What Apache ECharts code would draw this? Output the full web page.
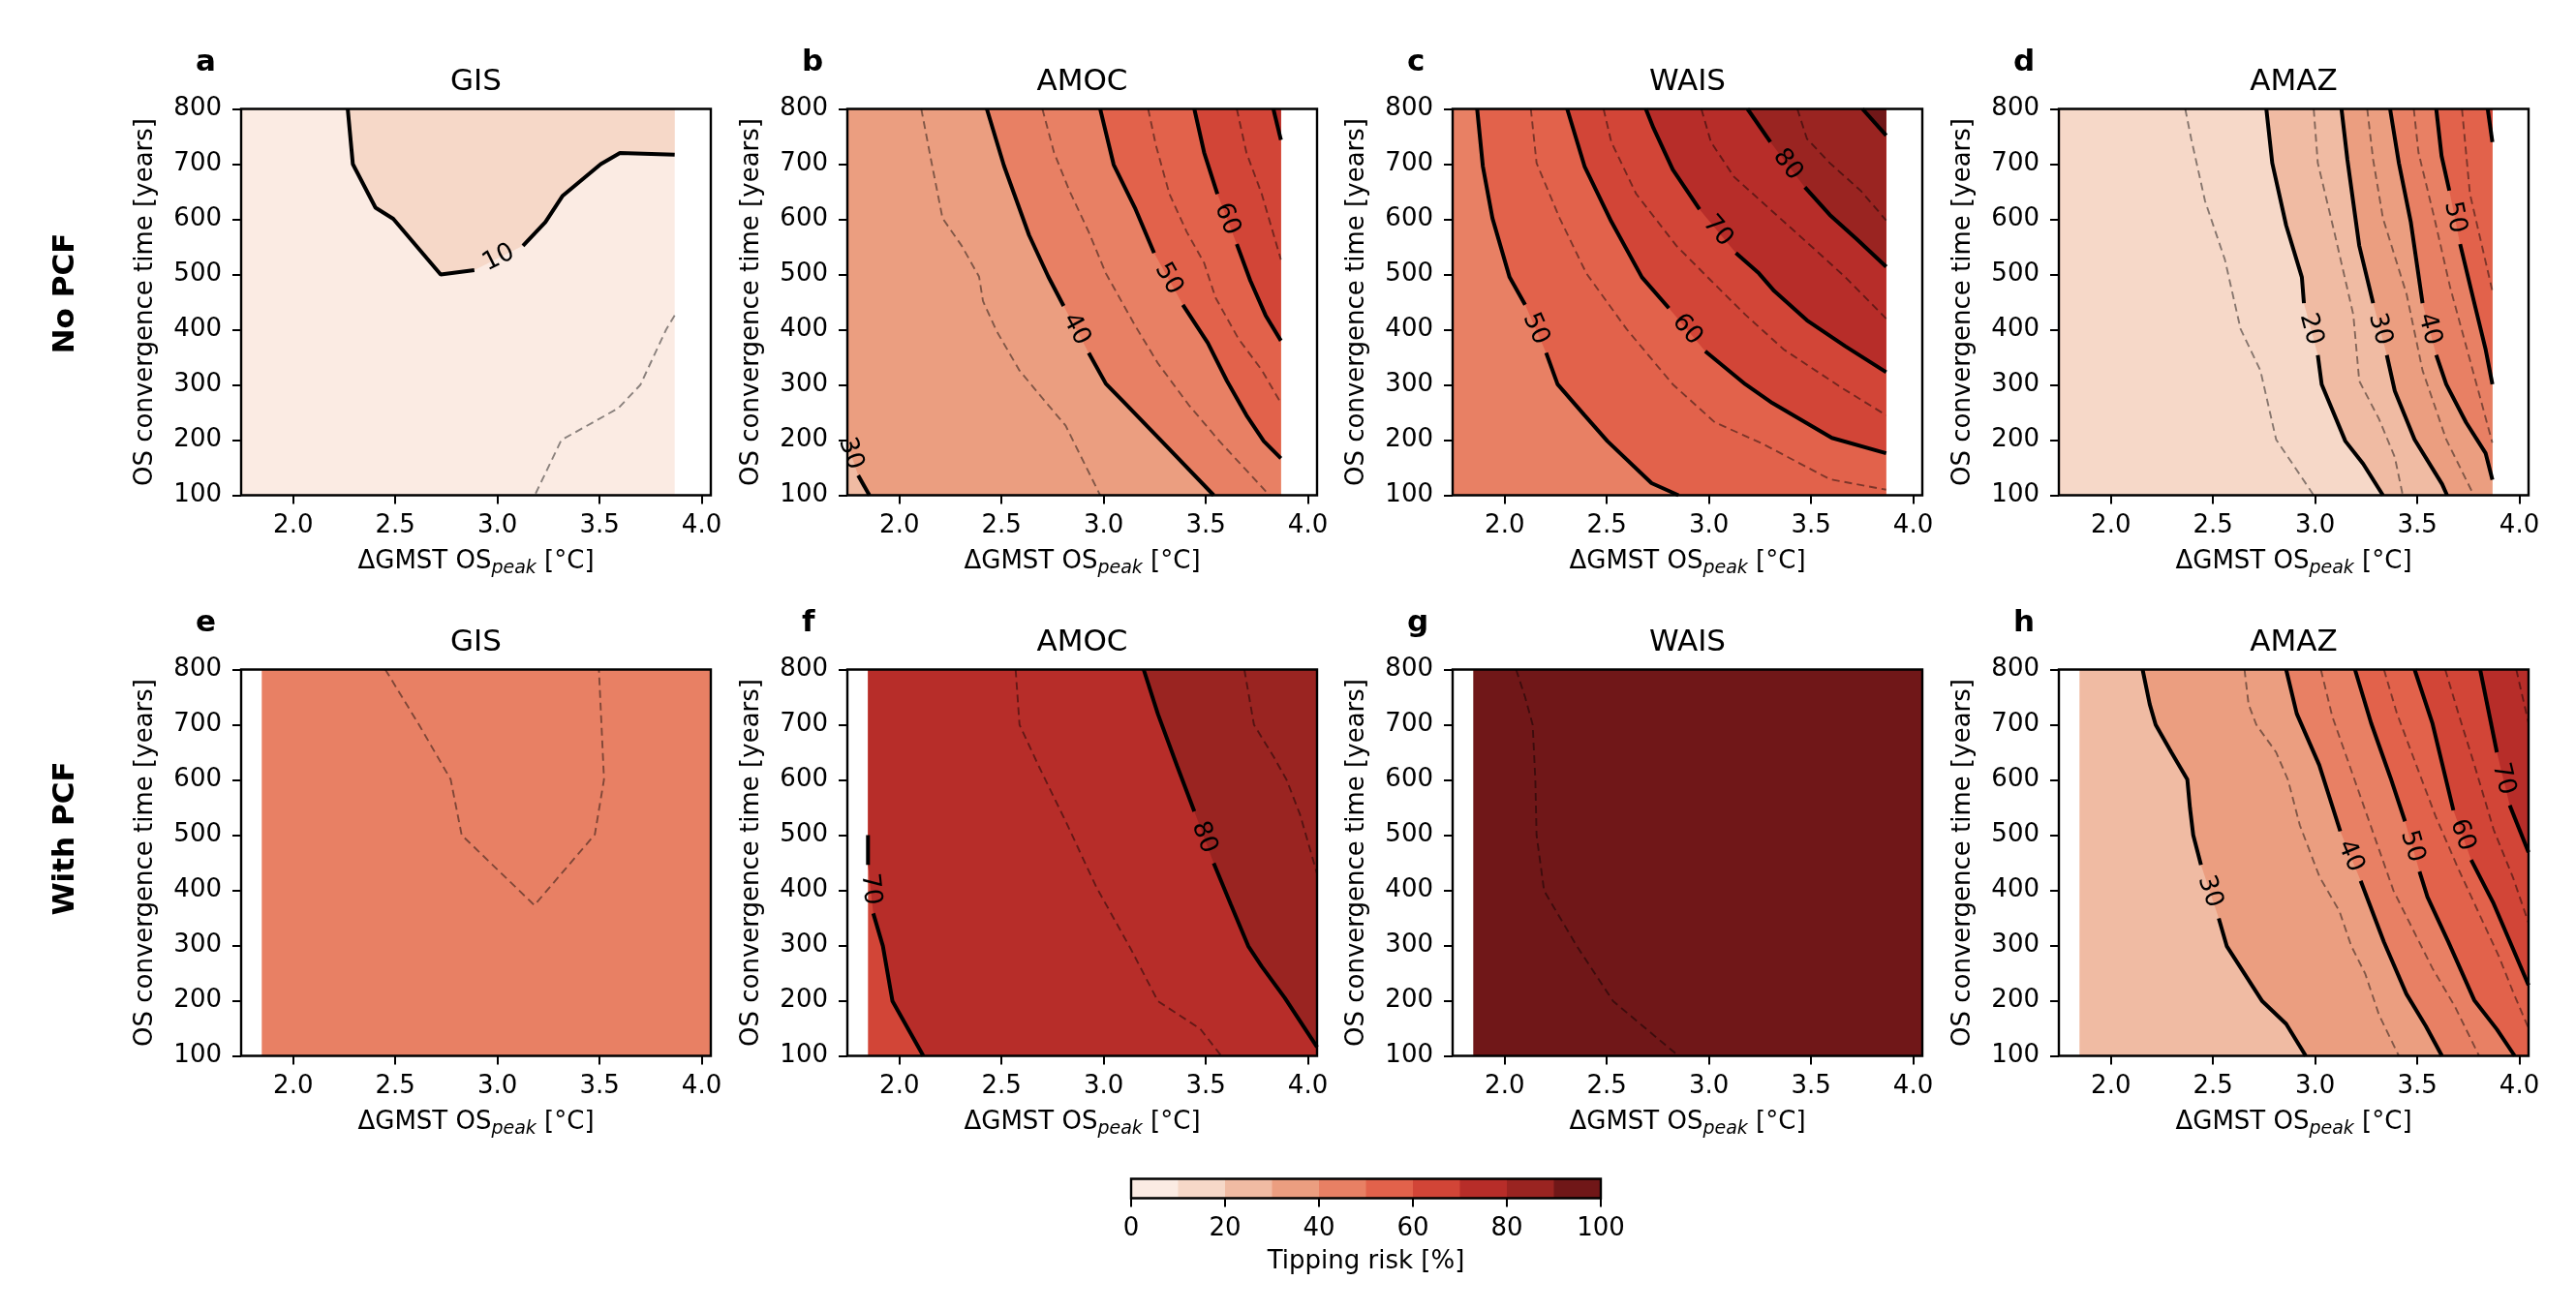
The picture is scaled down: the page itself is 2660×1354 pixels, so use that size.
<!DOCTYPE html>
<html>
<head>
<meta charset="utf-8">
<title>Tipping risk vs overshoot</title>
<script src="https://cdn.jsdelivr.net/npm/echarts@6/dist/echarts.min.js"></script>
<style>
  html, body { margin: 0; padding: 0; background: #fff; }
  #chart { width: 2660px; height: 1354px; }
</style>
</head>
<body>
<div id="chart"></div>
<script>
const panelTitles = ['GIS', 'AMOC', 'WAIS', 'AMAZ'];
const panelLetters = ['a', 'b', 'c', 'd', 'e', 'f', 'g', 'h'];
const rowNames = ['No PCF', 'With PCF'];
const xTicks = [2.0, 2.5, 3.0, 3.5, 4.0];
const riskLevels = [0, 10, 20, 30, 40, 50, 60, 70, 80, 90, 100];
const riskColors = ['#fbebe3', '#f6d8c8', '#f0bba3', '#eb9e80', '#e88064',
                    '#e2624b', '#d24537', '#b72d29', '#9a2421', '#701718'];
// x extent of the data in each row, y extent shared
const rowXExtent = [[1.745, 3.868], [1.846, 4.045]];
const yExtent = [100, 800];

// contour lines per panel: [level, points]; null = gap for the inline label
const isoA = [
  [5, [[3.868, 426], [3.826, 400], [3.70, 300], [3.593, 258], [3.313, 200], [3.183, 100]]],
  [10, [[2.267, 800], [2.292, 700], [2.403, 621], [2.49, 601], [2.722, 500], [2.887, 508], null,
        [3.125, 552], [3.235, 595], [3.318, 642], [3.506, 700], [3.60, 720], [3.868, 717]]]
];
const isoB = [
  [30, [[1.725, 215], null, [1.798, 136], [1.853, 100]]],
  [35, [[2.107, 800], [2.154, 709], [2.211, 602], [2.305, 552], [2.39, 496], [2.409, 452], [2.475, 398],
        [2.588, 326], [2.70, 276], [2.814, 226], [2.983, 100]]],
  [40, [[2.428, 800], [2.512, 697], [2.635, 571], [2.729, 496], [2.804, 443], null,
        [2.927, 358], [3.011, 302], [3.096, 270], [3.284, 198], [3.539, 100]]],
  [45, [[2.70, 800], [2.757, 721], [2.832, 652], [2.927, 577], [3.011, 502], [3.153, 408], [3.266, 339],
        [3.416, 264], [3.567, 198], [3.812, 100]]],
  [50, [[2.983, 800], [3.049, 699], [3.153, 621], [3.247, 539], null,
        [3.388, 445], [3.510, 376], [3.604, 307], [3.699, 245], [3.784, 198], [3.868, 167]]],
  [55, [[3.218, 800], [3.256, 734], [3.322, 646], [3.407, 577], [3.492, 521], [3.548, 458], [3.661, 383],
        [3.774, 327], [3.868, 267]]],
  [60, [[3.444, 800], [3.492, 721], [3.557, 646], null, [3.652, 555], [3.718, 489], [3.793, 426], [3.868, 380]]],
  [65, [[3.652, 800], [3.699, 721], [3.774, 646], [3.868, 527]]],
  [70, [[3.831, 800], [3.868, 744]]]
];
const isoC = [
  [50, [[1.865, 800], [1.893, 696], [1.94, 602], [2.024, 495], [2.10, 445], null,
        [2.203, 358], [2.259, 301], [2.391, 245], [2.503, 198], [2.719, 122], [2.851, 100]]],
  [55, [[2.128, 800], [2.156, 702], [2.269, 602], [2.40, 502], [2.597, 401], [2.823, 301], [3.029, 232],
        [3.254, 195], [3.592, 129], [3.868, 110]]],
  [60, [[2.306, 800], [2.391, 696], [2.522, 596], [2.672, 495], [2.804, 439], null,
        [2.982, 361], [3.179, 301], [3.311, 267], [3.602, 204], [3.868, 176]]],
  [65, [[2.484, 800], [2.522, 740], [2.644, 646], [2.841, 552], [3.010, 489], [3.179, 427], [3.367, 364],
        [3.649, 295], [3.868, 245]]],
  [70, [[2.691, 800], [2.729, 765], [2.823, 690], [2.954, 618], null,
        [3.132, 539], [3.245, 502], [3.320, 470], [3.480, 417], [3.668, 370], [3.868, 323]]],
  [75, [[2.963, 800], [3.010, 740], [3.123, 677], [3.348, 602], [3.517, 546], [3.668, 495], [3.868, 420]]],
  [80, [[3.189, 800], [3.301, 740], null, [3.470, 658], [3.592, 608], [3.724, 564], [3.868, 514]]],
  [85, [[3.433, 800], [3.480, 746], [3.592, 702], [3.743, 652], [3.868, 598]]],
  [90, [[3.752, 800], [3.868, 752]]]
];
const isoD = [
  [15, [[2.364, 800], [2.393, 746], [2.461, 633], [2.558, 527], [2.635, 401], [2.732, 326], [2.809, 201], [2.993, 100]]],
  [20, [[2.761, 800], [2.790, 702], [2.858, 589], [2.935, 495], [2.945, 448], null,
        [3.013, 354], [3.032, 301], [3.148, 198], [3.235, 157], [3.332, 100]]],
  [25, [[2.993, 800], [3.013, 702], [3.09, 583], [3.187, 427], [3.216, 307], [3.313, 238], [3.390, 169], [3.429, 100]]],
  [30, [[3.129, 800], [3.158, 708], [3.216, 552], [3.284, 448], null,
        [3.351, 354], [3.390, 289], [3.487, 201], [3.622, 120], [3.646, 100]]],
  [35, [[3.255, 800], [3.284, 708], [3.332, 602], [3.448, 464], [3.526, 326], [3.642, 201], [3.777, 100]]],
  [40, [[3.367, 800], [3.410, 702], [3.468, 596], [3.526, 448], null,
        [3.593, 354], [3.642, 301], [3.739, 232], [3.835, 176], [3.868, 128]]],
  [45, [[3.483, 800], [3.506, 721], [3.584, 602], [3.661, 477], [3.758, 345], [3.868, 195]]],
  [50, [[3.593, 800], [3.619, 715], [3.657, 652], null, [3.71, 555], [3.777, 452], [3.835, 364], [3.868, 301]]],
  [55, [[3.719, 800], [3.758, 646], [3.868, 470]]],
  [60, [[3.845, 800], [3.868, 740]]]
];
const isoE = [
  [45, [[2.451, 800], [2.616, 700], [2.771, 601], [2.825, 500], [3.181, 373], [3.477, 501], [3.522, 601], [3.497, 800]]]
];
const isoF = [
  [70, [[1.846, 500], [1.846, 446], null, [1.872, 358], [1.919, 299], [1.966, 199], [2.117, 100]]],
  [75, [[2.569, 800], [2.588, 700], [2.682, 625], [2.814, 525], [2.964, 406], [3.134, 293], [3.266, 199],
        [3.473, 149], [3.576, 100]]],
  [80, [[3.196, 800], [3.266, 719], [3.360, 625], [3.444, 543], null,
        [3.539, 449], [3.623, 374], [3.708, 299], [3.774, 262], [3.887, 205], [4.045, 116]]],
  [85, [[3.689, 800], [3.736, 700], [3.831, 643], [3.896, 600], [3.962, 537], [4.045, 430]]]
];
const isoG = [
  [95, [[2.056, 800], [2.10, 750], [2.137, 700], [2.150, 600], [2.156, 500], [2.193, 399], [2.353, 299],
        [2.531, 199], [2.851, 100]]]
];
const isoH = [
  [30, [[2.155, 800], [2.19, 737], [2.219, 700], [2.296, 650], [2.374, 601], [2.387, 549], [2.403, 500],
        [2.441, 446], null, [2.528, 349], [2.567, 299], [2.654, 249], [2.741, 199], [2.858, 158], [2.954, 100]]],
  [35, [[2.654, 800], [2.674, 737], [2.712, 700], [2.809, 650], [2.867, 600], [2.925, 518], [3.022, 424],
        [3.119, 362], [3.177, 299], [3.245, 249], [3.313, 174], [3.41, 100]]],
  [40, [[2.858, 800], [2.91, 720], [3.02, 627], [3.123, 507], null,
        [3.223, 417], [3.337, 306], [3.447, 212], [3.542, 154], [3.621, 100]]],
  [45, [[3.028, 800], [3.084, 715], [3.179, 615], [3.289, 499], [3.384, 399], [3.495, 317], [3.574, 259],
        [3.685, 189], [3.803, 100]]],
  [50, [[3.195, 800], [3.274, 703], [3.369, 604], [3.44, 525], null,
        [3.511, 434], [3.550, 388], [3.653, 306], [3.779, 201], [3.890, 148], [3.977, 100]]],
  [55, [[3.337, 800], [3.40, 721], [3.495, 627], [3.59, 534], [3.70, 440], [3.80, 360], [3.90, 280],
        [3.97, 215], [4.045, 150]]],
  [60, [[3.487, 800], [3.574, 703], [3.677, 545], null, [3.764, 455], [3.874, 376], [3.969, 294], [4.045, 228]]],
  [65, [[3.637, 800], [3.701, 721], [3.78, 627], [3.874, 510], [3.969, 423], [4.045, 341]]],
  [70, [[3.808, 800], [3.890, 650], null, [3.953, 554], [4.045, 469]]],
  [75, [[3.985, 800], [4.045, 703]]]
];
const panels = [isoA, isoB, isoC, isoD, isoE, isoF, isoG, isoH];

// layout
const gridLeft = [249, 875, 1500, 2126];
const gridTop = [112.5, 691.5];
const gridW = 485, gridH = 399;
const xMin = 1.745, xMax = 4.045;
const fontFamily = 'DejaVu Sans';
const cbar = { left: 1168, top: 1217.5, width: 485, height: 20 };

// position of a boundary point along the domain outline (0..4, clockwise from top-left)
function edgePos(pt, d) {
  const fx = Math.min(Math.max((pt[0] - d.x0) / (d.x1 - d.x0), 0), 1);
  const fy = Math.min(Math.max((pt[1] - d.y0) / (d.y1 - d.y0), 0), 1);
  const dist = [1 - fy, 1 - fx, fy, fx];
  const e = dist.indexOf(Math.min(...dist));
  return [fx, 2 - fy, 3 - fx, 3 + fy][e];
}

// polygon of the area above a contour level (high side lies left of the line direction)
function highSide(pts, d) {
  const line = pts.filter(Boolean);
  const corners = [[d.x0, d.y1], [d.x1, d.y1], [d.x1, d.y0], [d.x0, d.y0]];
  const s0 = edgePos(line[0], d);
  const s1 = edgePos(line[line.length - 1], d);
  const target = s0 > s1 ? s0 - 4 : s0;
  const out = line.slice();
  for (let c = Math.floor(s1); c > target; c--) out.push(corners[((c % 4) + 4) % 4]);
  return out;
}

function buildRegions(iso, d) {
  const minLevel = Math.min(...iso.map(l => l[0]));
  const regions = [{
    band: Math.ceil(minLevel / 10) - 1,
    pts: [[d.x0, d.y1], [d.x1, d.y1], [d.x1, d.y0], [d.x0, d.y0]]
  }];
  iso.filter(l => l[0] % 10 === 0)
    .sort((a, b) => a[0] - b[0])
    .forEach(l => regions.push({ band: l[0] / 10, pts: highSide(l[1], d) }));
  return regions;
}

function segments(pts) {
  const segs = [[]];
  pts.forEach(p => p ? segs[segs.length - 1].push(p) : segs.push([]));
  return segs.filter(s => s.length > 1);
}

function labelItem(params, api) {
  const a = api.coord([api.value(0), api.value(1)]);
  const b = api.coord([api.value(2), api.value(3)]);
  let ang = Math.atan2(a[1] - b[1], b[0] - a[0]);
  if (ang > Math.PI / 2) ang -= Math.PI;
  if (ang < -Math.PI / 2) ang += Math.PI;
  return {
    type: 'text',
    x: (a[0] + b[0]) / 2,
    y: (a[1] + b[1]) / 2,
    rotation: ang,
    style: {
      text: String(api.value(4)), fontSize: 26, fontFamily: fontFamily,
      fill: '#000', align: 'center', verticalAlign: 'middle'
    }
  };
}

const textStyle = { color: '#000', fontFamily: fontFamily, fontSize: 26 };
const grids = [], xAxes = [], yAxes = [], series = [], graphics = [];

panels.forEach((iso, p) => {
  const row = Math.floor(p / 4), col = p % 4;
  const left = gridLeft[col], top = gridTop[row];
  const dom = { x0: rowXExtent[row][0], x1: rowXExtent[row][1], y0: yExtent[0], y1: yExtent[1] };

  grids.push({ left: left, top: top, width: gridW, height: gridH, outerBoundsMode: 'none' });
  xAxes.push({
    gridIndex: p, type: 'value', min: xMin, max: xMax,
    axisLine: { show: false }, splitLine: { show: false },
    axisTick: { show: true, customValues: xTicks, length: 9, lineStyle: { color: '#000', width: 2 } },
    axisLabel: Object.assign({ customValues: xTicks, margin: 19, formatter: v => v.toFixed(1) }, textStyle),
    name: '{n|ΔGMST OS}{s|peak}{n| [°C]}',
    nameLocation: 'middle', nameGap: 53,
    nameTextStyle: {
      rich: {
        n: { fontSize: 26, fontFamily: fontFamily, color: '#000', lineHeight: 32 },
        s: { fontSize: 19, fontFamily: fontFamily, fontStyle: 'italic', color: '#000', lineHeight: 22, verticalAlign: 'bottom' }
      }
    }
  });
  yAxes.push({
    gridIndex: p, type: 'value', min: 100, max: 800, interval: 100,
    axisLine: { show: false }, splitLine: { show: false },
    axisTick: { show: true, length: 9, lineStyle: { color: '#000', width: 2 } },
    axisLabel: Object.assign({ margin: 20 }, textStyle),
    name: 'OS convergence time [years]',
    nameLocation: 'middle', nameRotate: 90, nameGap: 84,
    nameTextStyle: Object.assign({ lineHeight: 30 }, textStyle)
  });

  // filled bands
  const regions = buildRegions(iso, dom);
  series.push({
    type: 'custom', xAxisIndex: p, yAxisIndex: p, clip: true, silent: true, z: 1,
    data: regions.map(r => r.pts[0]),
    renderItem: (params, api) => {
      const r = regions[params.dataIndex];
      return { type: 'polygon', shape: { points: r.pts.map(pt => api.coord(pt)) }, style: { fill: riskColors[r.band] } };
    }
  });

  // contour lines
  iso.forEach(([level, pts]) => {
    const solid = level % 10 === 0;
    segments(pts).forEach(seg => {
      series.push({
        type: 'line', xAxisIndex: p, yAxisIndex: p, silent: true, z: 2,
        symbol: 'none', data: seg,
        lineStyle: solid
          ? { color: '#000', width: 4, type: 'solid' }
          : { color: 'rgba(0,0,0,0.45)', width: 1.9, type: [8, 5] }
      });
    });
  });

  // inline labels
  const labels = [];
  iso.forEach(([level, pts]) => {
    const g = pts.indexOf(null);
    if (g > 0) labels.push([pts[g - 1][0], pts[g - 1][1], pts[g + 1][0], pts[g + 1][1], level]);
  });
  if (labels.length) {
    series.push({
      type: 'custom', xAxisIndex: p, yAxisIndex: p, clip: false, silent: true, z: 3,
      data: labels, encode: { x: [0, 2], y: [1, 3] },
      renderItem: labelItem
    });
  }

  graphics.push({
    type: 'rect', z: 10, silent: true,
    shape: { x: left, y: top, width: gridW, height: gridH },
    style: { fill: null, stroke: '#000', lineWidth: 2.4 }
  });
  graphics.push({
    type: 'text', z: 10, x: left - 47, y: top - 47.5,
    style: { text: panelLetters[p], fontSize: 31, fontWeight: 'bold', fontFamily: fontFamily, fill: '#000', align: 'left', verticalAlign: 'middle' }
  });
  graphics.push({
    type: 'text', z: 10, x: left + gridW / 2, y: top - 28,
    style: { text: panelTitles[col], fontSize: 31, fontFamily: fontFamily, fill: '#000', align: 'center', verticalAlign: 'middle' }
  });
});

rowNames.forEach((name, r) => {
  graphics.push({
    type: 'text', z: 10, x: 68, y: [303, 866][r], rotation: Math.PI / 2,
    style: { text: name, fontSize: 31, fontWeight: 'bold', fontFamily: fontFamily, fill: '#000', align: 'center', verticalAlign: 'middle' }
  });
});

// colorbar
const cb = panels.length;
grids.push({ left: cbar.left, top: cbar.top, width: cbar.width, height: cbar.height, outerBoundsMode: 'none' });
xAxes.push({
  gridIndex: cb, type: 'value', min: 0, max: 100, interval: 20,
  axisLine: { show: false }, splitLine: { show: false },
  axisTick: { show: true, length: 9, lineStyle: { color: '#000', width: 2 } },
  axisLabel: Object.assign({ margin: 19 }, textStyle),
  name: 'Tipping risk [%]', nameLocation: 'middle', nameGap: 50,
  nameTextStyle: Object.assign({ lineHeight: 32 }, textStyle)
});
yAxes.push({ gridIndex: cb, type: 'value', min: 0, max: 1, show: false });
series.push({
  type: 'custom', xAxisIndex: cb, yAxisIndex: cb, silent: true,
  data: riskColors.map((c, i) => [riskLevels[i], riskLevels[i + 1], 0, 1]),
  encode: { x: [0, 1], y: [2, 3] },
  renderItem: (params, api) => {
    const p0 = api.coord([api.value(0), 1]);
    const p1 = api.coord([api.value(1), 0]);
    return {
      type: 'rect',
      shape: { x: p0[0], y: p0[1], width: p1[0] - p0[0] + 0.5, height: p1[1] - p0[1] },
      style: { fill: riskColors[params.dataIndex] }
    };
  }
});
graphics.push({
  type: 'rect', z: 10, silent: true,
  shape: { x: cbar.left, y: cbar.top, width: cbar.width, height: cbar.height },
  style: { fill: null, stroke: '#000', lineWidth: 2.4 }
});

const chart = echarts.init(document.getElementById('chart'), null, { renderer: 'canvas' });
chart.setOption({
  backgroundColor: '#fff',
  animation: false,
  grid: grids,
  xAxis: xAxes,
  yAxis: yAxes,
  series: series,
  graphic: graphics
});
</script>
</body>
</html>
